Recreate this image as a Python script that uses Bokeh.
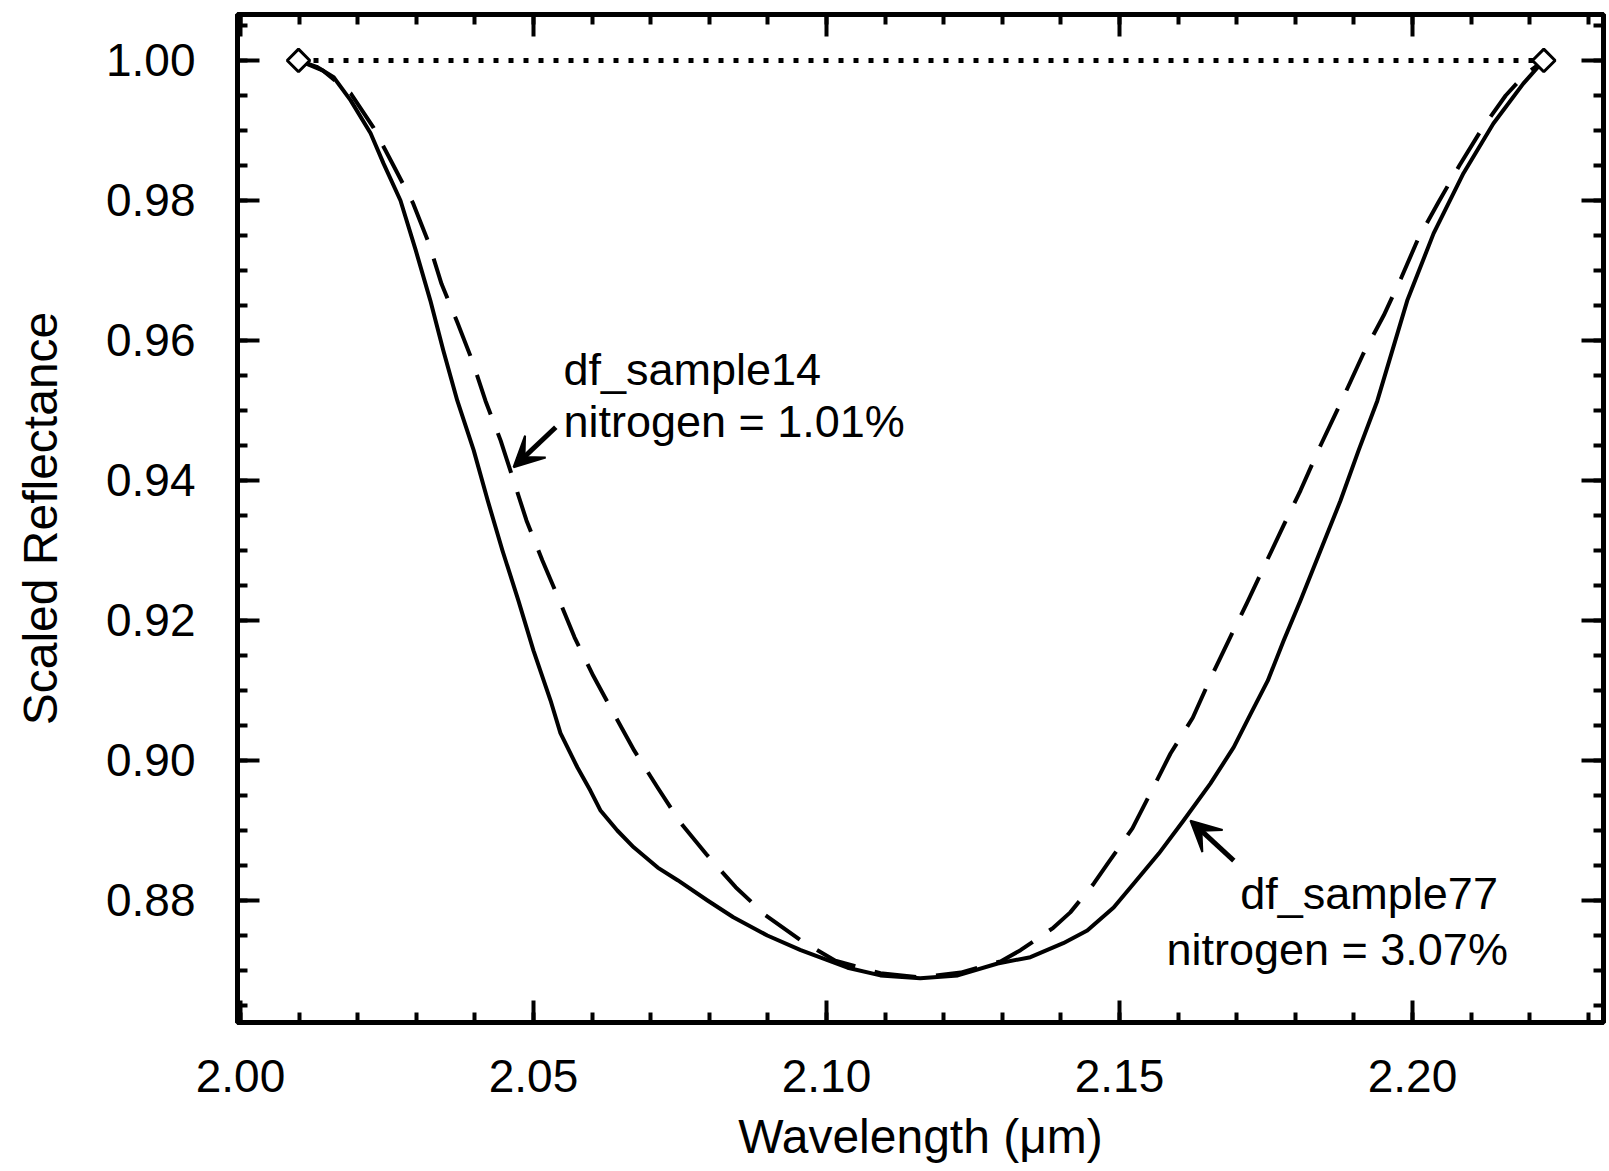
from bokeh.plotting import figure
from bokeh.models import Range1d, LinearAxis, SingleIntervalTicker, PrintfTickFormatter, Arrow, VeeHead
from bokeh.core.properties import value
from bokeh.embed import file_html
from bokeh.resources import INLINE
import numpy as np

# ---- data ----
sample77_wl = [2.0099, 2.0130, 2.0159, 2.0188, 2.0222, 2.0244, 2.0273, 2.0299, 2.0324, 2.0346,
               2.0370, 2.0398, 2.0422, 2.0447, 2.0474, 2.0500, 2.0529, 2.0546, 2.0575, 2.0597,
               2.0614, 2.0643, 2.0671, 2.0712, 2.0746, 2.0797, 2.0841, 2.0899, 2.0956, 2.1036,
               2.1092, 2.1160, 2.1224, 2.1292, 2.1348, 2.1404, 2.1445, 2.1490, 2.1524, 2.1567,
               2.1609, 2.1655, 2.1695, 2.1724, 2.1753, 2.1780, 2.1809, 2.1843, 2.1877, 2.1908,
               2.1940, 2.1991, 2.2036, 2.2087, 2.2138, 2.2189, 2.2224]
sample77_refl = [1.0000, 0.9991, 0.9976, 0.9943, 0.9896, 0.9853, 0.9800, 0.9729, 0.9657, 0.9586,
                 0.9514, 0.9443, 0.9371, 0.9300, 0.9229, 0.9157, 0.9086, 0.9039, 0.8990, 0.8957,
                 0.8929, 0.8900, 0.8876, 0.8847, 0.8829, 0.8800, 0.8776, 0.8750, 0.8729, 0.8704,
                 0.8693, 0.8689, 0.8693, 0.8710, 0.8719, 0.8739, 0.8757, 0.8790, 0.8824, 0.8867,
                 0.8914, 0.8967, 0.9019, 0.9067, 0.9114, 0.9171, 0.9229, 0.9300, 0.9371, 0.9443,
                 0.9514, 0.9657, 0.9753, 0.9839, 0.9910, 0.9967, 1.0000]

sample14_wl = [2.0099, 2.0140, 2.0188, 2.0227, 2.0261, 2.0294, 2.0321, 2.0343, 2.0370, 2.0396,
               2.0418, 2.0444, 2.0466, 2.0488, 2.0515, 2.0543, 2.0570, 2.0602, 2.0637, 2.0672,
               2.0712, 2.0751, 2.0795, 2.0845, 2.0896, 2.0956, 2.1015, 2.1092, 2.1160, 2.1229,
               2.1297, 2.1331, 2.1387, 2.1416, 2.1456, 2.1480, 2.1522, 2.1555, 2.1587, 2.1625,
               2.1655, 2.1686, 2.1718, 2.1749, 2.1780, 2.1809, 2.1843, 2.1882, 2.1916, 2.1951,
               2.1981, 2.2010, 2.2044, 2.2080, 2.2119, 2.2159, 2.2191, 2.2224]
sample14_refl = [1.0000, 0.9986, 0.9953, 0.9904, 0.9850, 0.9797, 0.9740, 0.9681, 0.9626, 0.9570,
                 0.9514, 0.9457, 0.9400, 0.9343, 0.9286, 0.9231, 0.9176, 0.9121, 0.9067, 0.9014,
                 0.8961, 0.8911, 0.8866, 0.8819, 0.8779, 0.8743, 0.8714, 0.8696, 0.8690, 0.8697,
                 0.8713, 0.8729, 0.8761, 0.8783, 0.8824, 0.8853, 0.8903, 0.8957, 0.9010, 0.9061,
                 0.9117, 0.9171, 0.9226, 0.9281, 0.9336, 0.9386, 0.9450, 0.9519, 0.9581, 0.9636,
                 0.9690, 0.9746, 0.9797, 0.9850, 0.9903, 0.9950, 0.9979, 1.0000]

continuum_wl = [2.0099, 2.2224]
continuum_refl = [1.0, 1.0]

label14 = ["df_sample14", "nitrogen = 1.01%"]
label77 = ["df_sample77", "nitrogen = 3.07%"]

FONT = "Liberation Sans"

p = figure(width=1609, height=1171,
           x_range=Range1d(1.99949, 2.23259), y_range=Range1d(0.86257, 1.00657),
           output_backend="svg", toolbar_location=None,
           min_border_left=237, min_border_right=6, min_border_top=14, min_border_bottom=149,
           x_axis_type=None, y_axis_type=None)
p.xgrid.visible = False
p.ygrid.visible = False
p.outline_line_color = "black"
p.outline_line_width = 5
p.background_fill_color = "white"
p.border_fill_color = "white"

def style_axis(ax, labels=True):
    ax.axis_line_width = 5
    ax.axis_line_color = "black"
    ax.major_tick_in = 22
    ax.major_tick_out = 0
    ax.minor_tick_in = 10
    ax.minor_tick_out = 0
    ax.major_tick_line_width = 4
    ax.minor_tick_line_width = 4
    ax.major_tick_line_color = "black"
    ax.minor_tick_line_color = "black"
    if labels:
        ax.major_label_text_font = FONT
        ax.major_label_text_font_size = "46px"
        ax.major_label_text_color = "black"
        ax.axis_label_text_font = FONT
        ax.axis_label_text_font_size = "48px"
        ax.axis_label_text_font_style = "normal"
        ax.axis_label_text_color = "black"
    else:
        ax.major_label_text_font_size = "1px"
        ax.major_label_text_color = None
        ax.major_label_standoff = 0

xb = LinearAxis(ticker=SingleIntervalTicker(interval=0.05, num_minor_ticks=5),
                formatter=PrintfTickFormatter(format="%.2f"),
                axis_label="Wavelength (μm)")
style_axis(xb)
xb.major_label_standoff = 37
xb.axis_label_standoff = 15
p.add_layout(xb, "below")

yl = LinearAxis(ticker=SingleIntervalTicker(interval=0.02, num_minor_ticks=4),
                formatter=PrintfTickFormatter(format="%.2f"),
                axis_label="Scaled Reflectance")
style_axis(yl)
yl.major_label_standoff = 42
yl.axis_label_standoff = 36
p.add_layout(yl, "left")

xt = LinearAxis(ticker=SingleIntervalTicker(interval=0.05, num_minor_ticks=5))
style_axis(xt, labels=False)
p.add_layout(xt, "above")

yr = LinearAxis(ticker=SingleIntervalTicker(interval=0.02, num_minor_ticks=4))
style_axis(yr, labels=False)
p.add_layout(yr, "right")

# continuum line and endpoints
p.line(continuum_wl, continuum_refl, line_color="black", line_width=5, line_dash="5 10")

# spectra
p.line(sample14_wl, sample14_refl, line_color="black", line_width=4, line_dash="42 20",
       line_join="round")
p.line(sample77_wl, sample77_refl, line_color="black", line_width=4, line_join="round")

p.scatter(continuum_wl, continuum_refl, marker="square", angle=np.pi / 4, size=16,
          fill_color="white", line_color="black", line_width=3)

# annotations
p.text(x=[2.0551, 2.0551], y=[0.9559, 0.9484], text=label14,
       text_font=value(FONT), text_font_size="45px", text_color="black",
       text_align="left", text_baseline="alphabetic")
p.text(x=[2.1706, 2.1580], y=[0.8810, 0.8730], text=label77,
       text_font=value(FONT), text_font_size="45px", text_color="black",
       text_align="left", text_baseline="alphabetic")

p.add_layout(Arrow(end=VeeHead(size=30, fill_color="black", line_color="black", line_width=2),
                   x_start=2.0538, y_start=0.9476, x_end=2.0466, y_end=0.9419,
                   line_width=5, line_color="black"))
p.add_layout(Arrow(end=VeeHead(size=30, fill_color="black", line_color="black", line_width=2),
                   x_start=2.1695, y_start=0.8857, x_end=2.1621, y_end=0.8914,
                   line_width=5, line_color="black"))

open("out.html", "w").write(file_html(p, INLINE))
